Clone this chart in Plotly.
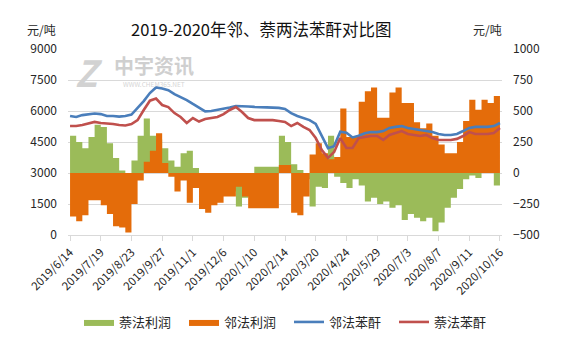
import pandas as pd
import plotly.graph_objects as go

# weekly dates from 2019/6/14
dates = pd.date_range("2019-06-14", periods=71, freq="7D")

# 邻法苯酐 price (元/吨, left axis)
lin_price = [5760, 5710, 5800, 5850, 5880, 5850, 5760, 5760, 5730, 5760,
             5830, 6150, 6480, 6870, 7140, 7090, 7010, 6820, 6680, 6530,
             6340, 6150, 5980, 6000, 6050, 6100, 6170, 6240, 6240, 6220,
             6200, 6190, 6170, 6150, 6150, 6100, 5900, 5760, 5660, 5560,
             5370, 4790, 4200, 4300, 5000, 4950, 4720, 4800, 4920, 4980,
             4980, 5030, 5180, 5230, 5270, 5180, 5130, 5080, 5060, 4980,
             4890, 4840, 4840, 4890, 5030, 5180, 5230, 5230, 5230, 5270,
             5420]
# 萘法苯酐 price (元/吨, left axis)
nai_price = [5275, 5275, 5320, 5400, 5470, 5420, 5400, 5370, 5320, 5300,
             5370, 5560, 6050, 6500, 6600, 6290, 6190, 5900, 5710, 5420,
             5660, 5490, 5610, 5660, 5710, 5850, 6050, 6190, 5950, 5660,
             5560, 5560, 5560, 5560, 5520, 5470, 5270, 5420, 5230, 5080,
             4690, 4110, 3730, 4020, 4690, 4210, 4210, 4690, 4740, 4790,
             4790, 4600, 4840, 4940, 5030, 4890, 4840, 4790, 4840, 4690,
             4600, 4600, 4600, 4650, 4790, 4980, 4890, 4890, 4890, 4940,
             5180]
# 邻法利润 (元/吨, right axis)
lin_profit = [-350, -390, -340, -220, -220, -260, -330, -430, -440, -480,
              -250, -60, 90, 180, 320, 80, -30, -150, -60, -240,
              -120, -290, -320, -260, -240, -190, -190, -110, -190, -285,
              -285, -285, -285, -285, 65, 65, -320, -340, -190, 150,
              240, 160, 110, 130, 520, 290, 290, 575, 660, 690,
              445, 445, 650, 690, 565, 565, 410, 360, 400, 300,
              230, 160, 160, 250, 420, 590, 510, 590, 565, 620,
              710]
# 萘法利润 (元/吨, right axis)
nai_profit = [300, 250, 200, 290, 390, 370, 240, 120, 20, 0,
              100, 300, 440, 300, 270, 200, 100, 50, 160, 180,
              40, 0, 0, 0, 0, 0, -150, -270, -200, 0,
              50, 50, 50, 50, 300, 250, 70, 25, -50, -270,
              -110, -120, 300, -30, -80, -120, -50, -100, -230, -200,
              -250, -230, -280, -260, -380, -330, -360, -390, -360, -470,
              -400, -280, -200, -130, -50, -20, -40, 0, 0, -100,
              -100]

tick_dates = pd.date_range("2019-06-14", periods=15, freq="35D")
tick_labels = ["2019/6/14", "2019/7/19", "2019/8/23", "2019/9/27", "2019/11/1",
               "2019/12/6", "2020/1/10", "2020/2/14", "2020/3/20", "2020/4/24",
               "2020/5/29", "2020/7/3", "2020/8/7", "2020/9/11", "2020/10/16"]

FONT = "Noto Sans CJK SC"
GREEN = "#9BBB59"
ORANGE = "#E46C0A"
BLUE = "#4A7EBB"
RED = "#C0504D"

fig = go.Figure()
fig.add_trace(go.Scatter(x=dates, y=nai_profit, name="萘法利润", mode="lines",
                         line=dict(width=0, shape="hv", color=GREEN),
                         fill="tozeroy", fillcolor=GREEN, yaxis="y"))
fig.add_trace(go.Scatter(x=dates, y=lin_profit, name="邻法利润", mode="lines",
                         line=dict(width=0, shape="hv", color=ORANGE),
                         fill="tozeroy", fillcolor=ORANGE, yaxis="y"))
fig.add_trace(go.Scatter(x=dates, y=lin_price, name="邻法苯酐", mode="lines",
                         line=dict(width=2.6, color=BLUE), yaxis="y2"))
fig.add_trace(go.Scatter(x=dates, y=nai_price, name="萘法苯酐", mode="lines",
                         line=dict(width=2.6, color=RED), yaxis="y2"))

W, H = 568, 345
L, R, T, B = 68, 66, 49, 110
pw, ph = W - L - R, H - T - B


def px(xp):
    return (xp - L) / pw


def py(yp):
    return (H - B - yp) / ph


fig.update_layout(
    width=W, height=H,
    margin=dict(l=L, r=R, t=T, b=B, autoexpand=False),
    paper_bgcolor="white", plot_bgcolor="white",
    font=dict(family=FONT, size=12, color="#262626"),
    showlegend=True,
    legend=dict(orientation="h", x=px(289), xanchor="center", y=py(322), yanchor="middle",
                font=dict(size=13, color="#262626"), entrywidth=60,
                itemwidth=30, traceorder="normal"),
    xaxis=dict(type="date", range=["2019-06-11 16:00", "2020-10-18 08:00"],
               tickvals=tick_dates, ticktext=tick_labels, tickangle=-45,
               tickfont=dict(size=11.5), showgrid=False, showline=True,
               linecolor="#d9d9d9", linewidth=1, ticks="outside", ticklen=5,
               tickcolor="#d9d9d9", anchor="y", zeroline=False, automargin=False),
    yaxis=dict(range=[-500, 1000], tick0=-500, dtick=250, side="right",
               showgrid=True, gridcolor="#d9d9d9", gridwidth=1, zeroline=False,
               tickfont=dict(size=12), ticklabelstandoff=10, showline=False,
               automargin=False),
    yaxis2=dict(range=[0, 9000], tick0=0, dtick=1500, side="left", overlaying="y",
                showgrid=False, zeroline=False, tickfont=dict(size=12),
                ticklabelstandoff=10, showline=False, automargin=False),
)

anns = [
    dict(text="2019-2020年邻、萘两法苯酐对比图", x=px(261), y=py(29), size=16.5, color="#111"),
    dict(text="元/吨", x=px(41), y=py(29), size=12, color="#262626"),
    dict(text="元/吨", x=px(487), y=py(29), size=12, color="#262626"),
    dict(text="<b>中宇资讯</b>", x=px(154), y=py(65), size=20, color="#cfcfcf"),
    dict(text="WWW.CHEM365.NET", x=px(154), y=py(84), size=6.5, color="#d5d5d5"),
    dict(text="<b><i>Z</i></b>", x=px(89), y=py(71), size=36, color="#d2d2d2"),
]
for a in anns:
    fig.add_annotation(text=a["text"], x=a["x"], y=a["y"], xref="paper", yref="paper",
                       showarrow=False, xanchor="center", yanchor="middle",
                       font=dict(family=FONT, size=a["size"], color=a["color"]))

fig.write_html("out.html")
